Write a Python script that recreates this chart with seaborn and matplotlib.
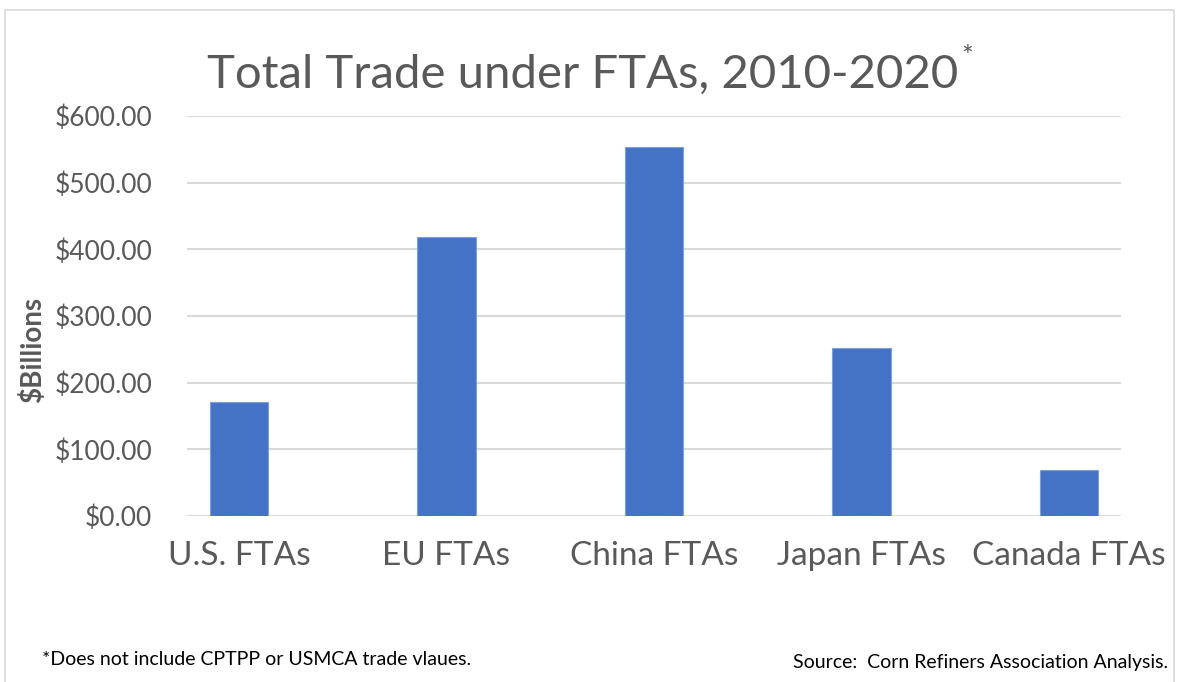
import matplotlib
matplotlib.use("Agg")
import matplotlib.pyplot as plt
import seaborn as sns
import pandas as pd
from matplotlib.patches import Rectangle
from matplotlib.ticker import FuncFormatter, MultipleLocator

categories = ["U.S. FTAs", "EU FTAs", "China FTAs", "Japan FTAs", "Canada FTAs"]
values = [171.5, 419, 553, 251.5, 68.5]

title = "Total Trade under FTAs, 2010-2020"
ylabel = "$Billions"
footnote = "*Does not include CPTPP or USMCA trade vlaues."
source = "Source:  Corn Refiners Association Analysis."

sns.set_theme(style="white")
plt.rcParams['font.family'] = ['Lato', 'DejaVu Sans']

TXT = "#595959"
df = pd.DataFrame({"cat": categories, "val": values})

fig = plt.figure(figsize=(11.77, 6.82), dpi=100)
ax = fig.add_axes([187/1177, 1-516/682, (1121-187)/1177, (516-116)/682])

sns.barplot(data=df, x="cat", y="val", ax=ax, color="#4472C4", width=0.28,
            saturation=1, edgecolor="#7f9fd8", linewidth=0.8, zorder=3)

ax.set_xlim(-0.25, 4.25)
ax.set_ylim(0, 600)
ax.yaxis.set_major_locator(MultipleLocator(100))
ax.yaxis.set_major_formatter(FuncFormatter(lambda v, p: f"${v:,.2f}"))
ax.grid(axis="y", color="#d9d9d9", linewidth=1.5, zorder=0)
ax.set_axisbelow(True)
for s in ax.spines.values():
    s.set_visible(False)
ax.tick_params(axis="y", length=0, pad=25, labelsize=19, labelcolor=TXT)
ax.tick_params(axis="x", length=0, pad=18, labelsize=24, labelcolor=TXT)
ax.set_xlabel("")
ax.set_ylabel("")

fig.text(33/1177, 1-350/682, ylabel, rotation=90, ha="center", va="center",
         fontsize=20, fontweight="bold", color=TXT)

fig.text(958/1177, 1-88/682, title, ha="right", va="baseline", fontsize=34, color=TXT)
fig.text(961/1177, 1-66/682, "*", ha="left", va="baseline", fontsize=20, color=TXT)

fig.text(42/1177, 1-665/682, footnote, ha="left", va="baseline", fontsize=14, color="black")
fig.text(1168/1177, 1-668/682, source, ha="right", va="baseline", fontsize=14, color="black")

fig.patches.append(Rectangle((5/1177, -0.05), (1174-5)/1177, 1.05-10/682,
                             transform=fig.transFigure, fill=False,
                             edgecolor="#d9d9d9", linewidth=1.2))

fig.savefig("out.png", dpi=100)
